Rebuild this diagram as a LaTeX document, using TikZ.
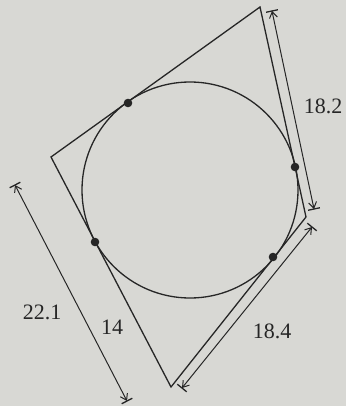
\documentclass[tikz,border=0pt]{standalone}
\usepackage{fontspec}
\setmainfont{Liberation Serif}
\usetikzlibrary{arrows.meta,calc}
\definecolor{pInk}{HTML}{262626}
\definecolor{pPaper}{HTML}{D8D8D4}
\tikzset{
  edge/.style={draw=pInk, line width=1.3pt, line join=miter},
  dimline/.style={draw=pInk, line width=1pt,
    {Straight Barb[length=6pt,width=8pt]}-{Straight Barb[length=6pt,width=8pt]}},
  dimbar/.style={draw=pInk, line width=1.3pt},
  tpt/.style={fill=pInk},
  lbl/.style={font=\fontsize{22}{25}\selectfont, text=pInk, inner sep=0pt},
}
\begin{document}
\begin{tikzpicture}[x=1pt, y=-1pt]
      \fill[pPaper] (0,0) rectangle (346,406);
      \useasboundingbox (0,0) rectangle (346,406);
      % quadrilateral and incircle
      \coordinate (top) at (260,7);
      \coordinate (rgt) at (306,217);
      \coordinate (bot) at (171,387);
      \coordinate (lft) at (51,157);
      \coordinate (o) at (190,190);
      \draw[edge] (lft) -- (top) -- (rgt) -- (bot) -- cycle;
      \draw[edge] (o) circle (108);
      \coordinate (ta) at (128,103);
      \coordinate (tb) at (295,167);
      \coordinate (tc) at (273,257);
      \coordinate (td) at (95,242);
      \foreach \t in {ta,tb,tc,td}
        \fill[tpt] (\t) circle (4.3);
      % dimension lines
      \coordinate (da1) at (272,11);
      \coordinate (da2) at (314,209);
      \coordinate (db1) at (312,227);
      \coordinate (db2) at (182,388);
      \coordinate (dc1) at (15,185);
      \coordinate (dc2) at (127,401);
      \foreach \a/\b in {da1/da2, db1/db2, dc1/dc2} {
        \draw[dimline] (\a) -- (\b);
        \draw[dimbar] ($(\a)!6pt!90:(\b)$) -- ($(\a)!6pt!-90:(\b)$);
        \draw[dimbar] ($(\b)!6pt!90:(\a)$) -- ($(\b)!6pt!-90:(\a)$);
      }
      \node[lbl] (l182) at (323,106) {18.2};
      \node[lbl] (l184) at (272,331) {18.4};
      \node[lbl] (l221) at (42,312) {22.1};
      \node[lbl] (l14) at (112,327) {14};
\end{tikzpicture}
\end{document}
